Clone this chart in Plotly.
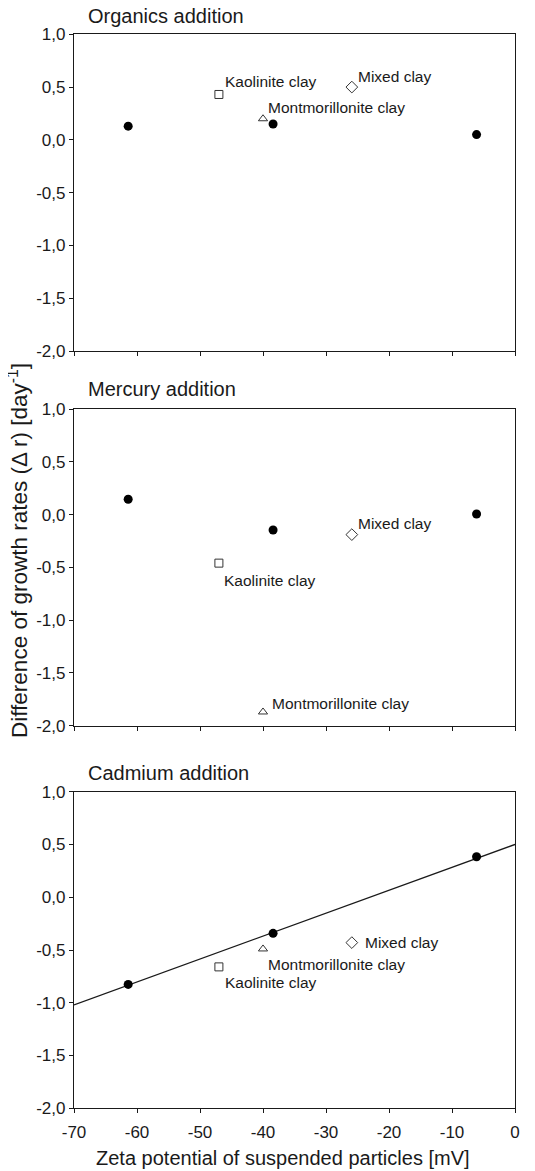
import plotly.graph_objects as go

# page has an 8px body margin, so the figure is drawn slightly smaller and
# all pixel geometry is measured relative to that offset
OFF = 8
W, H = 535 - OFF, 1171 - OFF

# ---------------- data ----------------
panels = ["Organics addition", "Mercury addition", "Cadmium addition"]

# filled circles (particle suspensions)
circle_x = [-61.4, -38.4, -6.1]
organics_circle_y = [0.13, 0.15, 0.05]
mercury_circle_y = [0.145, -0.146, 0.005]
cadmium_circle_y = [-0.826, -0.342, 0.384]

# clays
clay_names = ["Kaolinite clay", "Montmorillonite clay", "Mixed clay"]
clay_x = [-47.0, -40.0, -25.9]
organics_clay_y = [0.43, 0.20, 0.50]
mercury_clay_y = [-0.46, -1.87, -0.19]
cadmium_clay_y = [-0.66, -0.49, -0.43]

# regression line in the cadmium panel
fit_x = [-70, 0]
fit_y = [-1.02, 0.50]

x_ticks = [-70, -60, -50, -40, -30, -20, -10, 0]
x_tick_labels = ["-70", "-60", "-50", "-40", "-30", "-20", "-10", "0"]
y_ticks = [-2.0, -1.5, -1.0, -0.5, 0.0, 0.5, 1.0]
y_tick_labels = ["-2,0", "-1,5", "-1,0", "-0,5", "0,0", "0,5", "1,0"]

# ---------------- style / layout ----------------
FONT = "Liberation Sans, Arial, sans-serif"
INK = "#1a1a1a"
clay_symbols = ["square-open", "triangle-up-open", "diamond-open"]
clay_sizes = [8, 8, 9]

# label offsets (pixels) per panel, per clay: (dx, dy_up)
label_offsets = [
    [(4, 13), (3, 11), (4, 11)],
    [(3, -17), (7, 8), (4, 11)],
    [(4, -16), (3, -16), (11, 0)],
]

# pixel geometry (in window pixels)
x_left, x_right = 74, 515
panel_px = [(34.3, 351.0), (409.0, 725.7), (791.7, 1108.3)]
title_y_px = [16, 389, 773]


def py(p):
    return 1 - (p - OFF) / H


def px(p):
    return (p - OFF) / W


fig = go.Figure()

circle_sets = [organics_circle_y, mercury_circle_y, cadmium_circle_y]
clay_sets = [organics_clay_y, mercury_clay_y, cadmium_clay_y]

for i in range(3):
    xa = "x" if i == 0 else f"x{i+1}"
    ya = "y" if i == 0 else f"y{i+1}"
    if i == 2:
        fig.add_trace(go.Scatter(x=fit_x, y=fit_y, mode="lines",
                                 line=dict(color=INK, width=1.3),
                                 xaxis=xa, yaxis=ya, showlegend=False,
                                 cliponaxis=True))
    fig.add_trace(go.Scatter(x=circle_x, y=circle_sets[i], mode="markers",
                             marker=dict(symbol="circle", size=9, color="black"),
                             xaxis=xa, yaxis=ya, showlegend=False))
    for j in range(3):
        fig.add_trace(go.Scatter(x=[clay_x[j]], y=[clay_sets[i][j]], mode="markers",
                                 marker=dict(symbol=clay_symbols[j], size=clay_sizes[j],
                                             color="#333333", line=dict(width=1, color="#333333")),
                                 xaxis=xa, yaxis=ya, showlegend=False))
        dx, dy = label_offsets[i][j]
        fig.add_annotation(x=clay_x[j], y=clay_sets[i][j], xref=xa, yref=ya,
                           text=clay_names[j], showarrow=False,
                           xanchor="left", yanchor="middle",
                           xshift=dx, yshift=dy,
                           font=dict(family=FONT, size=15.5, color=INK))

    # panel title
    fig.add_annotation(x=px(86), y=py(title_y_px[i]), xref="paper", yref="paper",
                       text=panels[i], showarrow=False, xanchor="left", yanchor="middle",
                       font=dict(family=FONT, size=20, color=INK))

    top, bot = panel_px[i]
    axis_common = dict(showline=True, linecolor=INK, linewidth=1.2, mirror=True,
                       ticks="outside", ticklen=4, tickwidth=1, tickcolor=INK,
                       showgrid=False, zeroline=False, automargin=False,
                       tickfont=dict(family=FONT, size=17, color=INK))
    xkey = "xaxis" if i == 0 else f"xaxis{i+1}"
    ykey = "yaxis" if i == 0 else f"yaxis{i+1}"
    fig.update_layout(**{
        xkey: dict(domain=[px(x_left), px(x_right)], range=[-70, 0],
                   anchor=ya, tickvals=x_ticks, ticktext=x_tick_labels,
                   showticklabels=(i == 2), ticklabelstandoff=4, **axis_common),
        ykey: dict(domain=[py(bot), py(top)], range=[-2.0, 1.0],
                   anchor=xa, tickvals=y_ticks, ticktext=y_tick_labels,
                   **axis_common),
    })

# axis titles
fig.add_annotation(x=px(282.5), y=py(1158), xref="paper", yref="paper",
                   text="Zeta potential of suspended particles [mV]", showarrow=False,
                   xanchor="center", yanchor="middle",
                   font=dict(family=FONT, size=20, color=INK))
fig.add_annotation(x=px(18), y=py(551), xref="paper", yref="paper",
                   text="Difference of growth rates (Δ r) [day<sup>-1</sup>]", showarrow=False,
                   textangle=-90, xanchor="center", yanchor="middle",
                   font=dict(family=FONT, size=22.5, color=INK))

fig.update_layout(width=W, height=H, margin=dict(l=0, r=0, t=0, b=0, autoexpand=False),
                  paper_bgcolor="white", plot_bgcolor="white")

fig.write_html("out.html")
